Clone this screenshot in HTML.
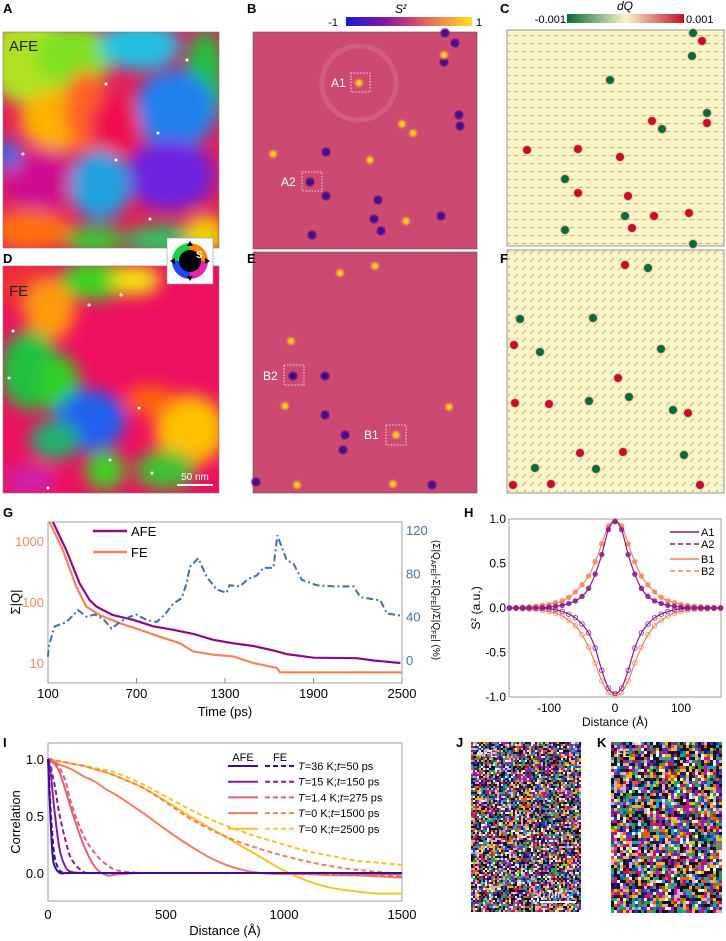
<!DOCTYPE html>
<html><head><meta charset="utf-8"><style>
body{margin:0;background:#fff;width:726px;height:941px;overflow:hidden;font-family:"Liberation Sans",sans-serif;}
svg{position:absolute;left:0;top:0}
</style></head><body>
<svg id="fig" width="726" height="941" viewBox="0 0 726 941" xmlns="http://www.w3.org/2000/svg" font-family="Liberation Sans, sans-serif">
<defs>
<pattern id="arrows" width="8" height="8" patternUnits="userSpaceOnUse"><line x1="1.5" y1="4" x2="6.5" y2="3.4" stroke="#9a9a7a" stroke-width="0.7"/></pattern>
<pattern id="arrows2" width="8" height="8" patternUnits="userSpaceOnUse"><line x1="2" y1="6" x2="6" y2="2" stroke="#9a9a7a" stroke-width="0.7"/></pattern>
<linearGradient id="cbS" x1="0" x2="1"><stop offset="0" stop-color="#1a1ad0"/><stop offset="0.3" stop-color="#7a1aa0"/><stop offset="0.55" stop-color="#d04a70"/><stop offset="0.8" stop-color="#f59a40"/><stop offset="1" stop-color="#ffe020"/></linearGradient>
<linearGradient id="cbQ" x1="0" x2="1"><stop offset="0" stop-color="#0a6a3a"/><stop offset="0.5" stop-color="#fbf5c8"/><stop offset="1" stop-color="#c0102a"/></linearGradient>
<radialGradient id="dotY"><stop offset="0" stop-color="#fff070"/><stop offset="0.5" stop-color="#f7a020"/><stop offset="1" stop-color="#d04a70" stop-opacity="0"/></radialGradient>
<radialGradient id="dotP"><stop offset="0" stop-color="#3a0a8a"/><stop offset="0.6" stop-color="#5a108a"/><stop offset="1" stop-color="#d04a70" stop-opacity="0"/></radialGradient>
<filter id="blur6"><feGaussianBlur stdDeviation="8"/></filter>
<clipPath id="clipA"><rect x="3" y="32" width="216" height="216"/></clipPath>
<clipPath id="clipD"><rect x="3" y="266" width="216" height="227"/></clipPath>
</defs>

<!-- Panel A -->
<g clip-path="url(#clipA)">
<rect x="3" y="32" width="216" height="216" fill="#e0205a"/>
<g filter="url(#blur6)">
<ellipse cx="30" cy="60" rx="45" ry="45" fill="#b0e020"/>
<ellipse cx="75" cy="55" rx="40" ry="30" fill="#80e020"/>
<ellipse cx="140" cy="45" rx="40" ry="25" fill="#20c0e0"/>
<ellipse cx="205" cy="80" rx="20" ry="50" fill="#20c040"/>
<ellipse cx="175" cy="110" rx="40" ry="40" fill="#2080f0"/>
<ellipse cx="170" cy="175" rx="45" ry="35" fill="#7020e0"/>
<ellipse cx="60" cy="120" rx="40" ry="30" fill="#ffb000"/>
<ellipse cx="85" cy="110" rx="20" ry="40" fill="#ff6020"/>
<ellipse cx="115" cy="125" rx="25" ry="30" fill="#f01050"/>
<ellipse cx="40" cy="180" rx="40" ry="30" fill="#d01090"/>
<ellipse cx="30" cy="230" rx="40" ry="20" fill="#ff7010"/>
<ellipse cx="100" cy="185" rx="30" ry="35" fill="#20a0e0"/>
<ellipse cx="95" cy="240" rx="30" ry="15" fill="#40c030"/>
<ellipse cx="165" cy="240" rx="40" ry="15" fill="#30c060"/>
<ellipse cx="205" cy="235" rx="20" ry="20" fill="#f0d000"/>
<ellipse cx="8" cy="155" rx="12" ry="15" fill="#2070f0"/>
</g>
<g fill="#fff"><circle cx="106" cy="84" r="1.5"/><circle cx="158" cy="133" r="1.5"/><circle cx="23" cy="154" r="1.5"/><circle cx="116" cy="160" r="1.5"/><circle cx="150" cy="219" r="1.5"/><circle cx="187" cy="60" r="1.5"/></g>
<text x="9" y="51" font-size="15" fill="#222">AFE</text>
</g>
<rect x="3" y="32" width="216" height="216" fill="none" stroke="#777" stroke-width="0.6"/>

<!-- Panel D -->
<g clip-path="url(#clipD)">
<rect x="3" y="266" width="216" height="227" fill="#ee1060"/>
<g filter="url(#blur6)">
<ellipse cx="25" cy="285" rx="30" ry="25" fill="#f03030"/>
<ellipse cx="50" cy="310" rx="25" ry="30" fill="#ff9a10"/>
<ellipse cx="95" cy="280" rx="35" ry="20" fill="#40d020"/>
<ellipse cx="135" cy="280" rx="25" ry="15" fill="#f0e010"/>
<ellipse cx="30" cy="370" rx="30" ry="40" fill="#20c040"/>
<ellipse cx="60" cy="385" rx="20" ry="30" fill="#30d020"/>
<ellipse cx="90" cy="420" rx="35" ry="30" fill="#2060f0"/>
<ellipse cx="55" cy="440" rx="25" ry="20" fill="#20b070"/>
<ellipse cx="190" cy="430" rx="35" ry="35" fill="#ffc000"/>
<ellipse cx="165" cy="470" rx="30" ry="20" fill="#40c030"/>
<ellipse cx="30" cy="480" rx="25" ry="15" fill="#d020b0"/>
<ellipse cx="105" cy="470" rx="20" ry="20" fill="#40d020"/>
<ellipse cx="150" cy="400" rx="25" ry="15" fill="#ff6010"/>
</g>
<g fill="#fff"><circle cx="89" cy="305" r="1.5"/><circle cx="121" cy="295" r="1.5"/><circle cx="13" cy="331" r="1.5"/><circle cx="9" cy="378" r="1.5"/><circle cx="139" cy="408" r="1.5"/><circle cx="110" cy="460" r="1.5"/><circle cx="152" cy="473" r="1.5"/><circle cx="48" cy="488" r="1.5"/></g>
<text x="9" y="296" font-size="15" fill="#222">FE</text>
<line x1="177" y1="485" x2="213" y2="485" stroke="#fff" stroke-width="2"/>
<text x="195" y="480" font-size="10" fill="#fff" text-anchor="middle">50 nm</text>
</g>
<rect x="3" y="266" width="216" height="227" fill="none" stroke="#777" stroke-width="0.6"/>

<!-- inset wheel -->
<g>
<rect x="167" y="238" width="46" height="46" fill="#fff" stroke="#999" stroke-width="0.6"/>
<circle cx="190" cy="261" r="18" fill="#7fd"/>
<path d="M190 261 L208 261 A18 18 0 0 0 190 243Z" fill="#f80"/>
<path d="M190 261 L190 243 A18 18 0 0 0 172 261Z" fill="#2c4"/>
<path d="M190 261 L172 261 A18 18 0 0 0 190 279Z" fill="#24f"/>
<path d="M190 261 L190 279 A18 18 0 0 0 208 261Z" fill="#e2a"/>
<circle cx="190" cy="261" r="11" fill="#000"/>
<text x="196" y="258" font-size="10" font-weight="bold" fill="#fff">S</text>
<path d="M190 241 l-3 5 h6z M190 281 l-3 -5 h6z M170 261 l5 -3 v6z M210 261 l-5 -3 v6z" fill="#000"/>
</g>

<!-- Panel B -->
<g>
<rect x="253" y="32" width="224" height="217" fill="#cc4a72" stroke="#555" stroke-width="0.6"/>
<circle cx="359" cy="83" r="37" fill="none" stroke="#d86a88" stroke-width="5" opacity="0.6"/>
<g id="bdots"></g>
<rect x="351" y="73" width="19" height="19" fill="none" stroke="#fff" stroke-dasharray="1.5,1.5" stroke-width="0.8"/>
<rect x="302" y="172" width="20" height="19" fill="none" stroke="#fff" stroke-dasharray="1.5,1.5" stroke-width="0.8"/>
<text x="331" y="87" font-size="12" fill="#fff">A1</text>
<text x="281" y="186" font-size="12" fill="#fff">A2</text>
<rect x="346" y="17" width="126" height="9" fill="url(#cbS)"/>
<text x="338" y="26" font-size="11" text-anchor="end">-1</text>
<text x="476" y="26" font-size="11">1</text>
<text x="401" y="13" font-size="12" font-style="italic" text-anchor="middle">S<tspan font-size="8" dy="-4">z</tspan></text>
</g>
<!-- Panel E -->
<g>
<rect x="253" y="252" width="224" height="241" fill="#cc4a72" stroke="#555" stroke-width="0.6"/>
<g id="edots"></g>
<rect x="284" y="365" width="20" height="20" fill="none" stroke="#fff" stroke-dasharray="1.5,1.5" stroke-width="0.8"/>
<rect x="386" y="425" width="20" height="20" fill="none" stroke="#fff" stroke-dasharray="1.5,1.5" stroke-width="0.8"/>
<text x="263" y="380" font-size="12" fill="#fff">B2</text>
<text x="364" y="439" font-size="12" fill="#fff">B1</text>
</g>
<!-- Panel C -->
<g>
<rect x="507" y="30" width="217" height="216" fill="#fbf5c8" stroke="#555" stroke-width="0.6"/>
<rect x="508" y="31" width="215" height="214" fill="url(#arrows)"/>
<g id="cdots"></g>
<rect x="567" y="14" width="117" height="9" fill="url(#cbQ)"/>
<text x="566" y="23" font-size="11" text-anchor="end">-0.001</text>
<text x="686" y="23" font-size="11">0.001</text>
<text x="625" y="10" font-size="12" font-style="italic" text-anchor="middle">dQ</text>
</g>
<!-- Panel F -->
<g>
<rect x="507" y="250" width="217" height="243" fill="#fbf5c8" stroke="#555" stroke-width="0.6"/>
<rect x="508" y="251" width="215" height="241" fill="url(#arrows2)"/>
<g id="fdots"></g>
</g>

<!-- panel letters -->
<g font-size="13" font-weight="bold">
<text x="3" y="13">A</text><text x="247" y="13">B</text><text x="500" y="13">C</text>
<text x="3" y="263">D</text><text x="247" y="263">E</text><text x="500" y="263">F</text>
<text x="3" y="517">G</text><text x="464" y="517">H</text><text x="3" y="747">I</text>
<text x="456" y="747">J</text><text x="597" y="747">K</text>
</g>

<!-- G chart -->
<g id="gChart">
<rect x="48" y="522" width="354" height="161" fill="none" stroke="#888" stroke-width="0.8"/>
<text x="225" y="716" font-size="13" text-anchor="middle">Time (ps)</text>
<text transform="translate(20,602) rotate(-90)" font-size="13" text-anchor="middle">Σ|Q|</text>
<text transform="translate(433,600) rotate(90)" font-size="10" text-anchor="middle">(Σ|Q<tspan font-size="7" dy="2">AFE</tspan><tspan dy="-2">|-Σ|Q</tspan><tspan font-size="7" dy="2">FE</tspan><tspan dy="-2">|)/Σ|Q</tspan><tspan font-size="7" dy="2">FE</tspan><tspan dy="-2">| (%)</tspan></text>
<line x1="93" y1="531" x2="127" y2="531" stroke="#8b0a8b" stroke-width="2.5"/>
<text x="131" y="536" font-size="13">AFE</text>
<line x1="93" y1="552" x2="127" y2="552" stroke="#f5845a" stroke-width="2.5"/>
<text x="131" y="557" font-size="13">FE</text>
</g>
<!-- H chart -->
<g id="hChart">
<rect x="509" y="519" width="212" height="178" fill="none" stroke="#888" stroke-width="0.8"/>
<text x="615" y="726" font-size="12" text-anchor="middle">Distance (Å)</text>
<text transform="translate(480,608) rotate(-90)" font-size="12" text-anchor="middle">S<tspan font-size="8" dy="-4">z</tspan><tspan dy="4"> (a.u.)</tspan></text>
<g font-size="11">
<line x1="670" y1="532" x2="699" y2="532" stroke="#8b1a8b" stroke-width="1.5"/><text x="701" y="536">A1</text>
<line x1="670" y1="544" x2="699" y2="544" stroke="#8b1a8b" stroke-width="1.5" stroke-dasharray="5,3"/><text x="701" y="548">A2</text>
<line x1="670" y1="559" x2="699" y2="559" stroke="#f5845a" stroke-width="1.5"/><text x="701" y="563">B1</text>
<line x1="670" y1="571" x2="699" y2="571" stroke="#f5845a" stroke-width="1.5" stroke-dasharray="5,3"/><text x="701" y="575">B2</text>
</g>
</g>
<!-- I chart -->
<g id="iChart">
<rect x="48" y="743" width="354" height="158" fill="none" stroke="#888" stroke-width="0.8"/>
<text x="225" y="935" font-size="13" text-anchor="middle">Distance (Å)</text>
<text transform="translate(20,822) rotate(-90)" font-size="13" text-anchor="middle">Correlation</text>
<text x="243" y="761" font-size="11" text-anchor="middle">AFE</text>
<text x="280" y="761" font-size="11" text-anchor="middle">FE</text>
<g id="iLegend" font-size="11"></g>
</g>

<!-- J, K noise maps -->
<g id="jmap"></g>
<g id="kmap"></g>
<g fill="#fff" font-size="11">
<text x="476" y="757">AFE</text><text x="616" y="757">FE</text>
<text x="548" y="898" text-anchor="middle">50 nm</text>
</g>
<line x1="540" y1="902" x2="576" y2="902" stroke="#fff" stroke-width="2"/>
</svg>
<script>
const NS="http://www.w3.org/2000/svg";
// ---- G data ----
const gAfeT=[134,225,315,383,428,540,677,813,949,1085,1220,1357,1492,1628,1719,1900,2194,2308,2489];
const gAfeV=[2040,700,200,107,84,61,51,40,35,30,24,21,19,16,14,12.2,12,11,10];
const gFeT=[111,202,292,360,451,587,723,858,994,1085,1220,1357,1492,1583,1651,1674,2500];
const gFeV=[2040,700,178,84,61,45,35,27,21,15.5,13.7,12.8,10,9,8.3,7,7];
const gRatT=[100,104,145,225,304,360,417,474,530,587,655,700,768,836,892,949,1006,1040,1062,1119,1175,1243,1311,1330,1402,1458,1515,1560,1628,1655,1719,1764,1821,1923,2036,2172,2217,2353,2398,2489];
const gRatV=[3,12,31,35,46,40,42,38,29,35,40,42,37,35,42,52,57,71,86,94,77,65,62,69,68,75,78,85,85,115,92,89,74,69,68,68,58,55,43,41];
const gXTicks=[100,700,1300,1900,2500];
const gYTicks=[10,100,1000];
const gRTicks=[0,40,80,120];
// ---- H data ----
const hDist=[0,10,20,30,40,50,60,70,80,90,100,110,120,130,140,150,160];
const hA1=[0.97,0.88,0.6,0.38,0.22,0.13,0.08,0.05,0.03,0.02,0.01,0.005,0,0,0,0,0];
const hA2=[-0.96,-0.9,-0.7,-0.45,-0.28,-0.18,-0.11,-0.07,-0.04,-0.02,-0.01,-0.005,0,0,0,0,0];
const hB1=[0.98,0.92,0.72,0.52,0.36,0.26,0.18,0.12,0.08,0.06,0.04,0.03,0.02,0.015,0.01,0.005,0];
const hB2=[-0.98,-0.95,-0.82,-0.62,-0.44,-0.3,-0.2,-0.14,-0.09,-0.06,-0.04,-0.03,-0.02,-0.015,-0.01,-0.005,0];
const hXTicks=[-100,0,100];
const hYTicks=[-1,-0.5,0,0.5,1];
// ---- I data ----
const iDist=[0,10,20,30,50,75,100,150,200,250,300,400,500,600,700,800,900,1000,1100,1200,1300,1400,1500];
const iAfe36=[1,0.5,0.15,0.05,0,0,0,0,0,0,0,0,0,0,0,0,0,0,0,0,0,0,0];
const iFe36=[1,0.6,0.3,0.12,0.02,0,0,0,0,0,0,0,0,0,0,0,0,0,0,0,0,0,0];
const iAfe15=[1,0.9,0.7,0.5,0.2,0.05,0.01,0,0,0,0,0,0,0,0,0,0,0,0,0,0,0,0];
const iFe15=[1,0.95,0.85,0.75,0.5,0.28,0.12,0.01,0,0,0,0,0,0,0,0,0,0,0,0,0,0,0];
const iAfe14=[1,0.99,0.97,0.95,0.88,0.72,0.55,0.25,0.05,-0.02,-0.01,0,0,0,0,0,0,0,0,0,-0.01,-0.01,-0.01];
const iFe14=[1,1,0.99,0.97,0.92,0.8,0.6,0.33,0.17,0.07,0.02,0,0,0,0,0,0,0,-0.01,-0.01,-0.02,-0.02,-0.03];
const iAfe1500=[1,0.99,0.98,0.97,0.95,0.93,0.91,0.85,0.8,0.73,0.67,0.53,0.38,0.24,0.12,0.04,0,-0.01,-0.01,-0.02,-0.02,-0.03,-0.04];
const iFe1500=[1,0.995,0.99,0.985,0.98,0.97,0.96,0.94,0.91,0.88,0.84,0.75,0.62,0.48,0.37,0.28,0.21,0.15,0.1,0.06,0.03,0.01,-0.01];
const iAfe2500=[1,0.995,0.99,0.985,0.98,0.97,0.96,0.94,0.91,0.88,0.84,0.75,0.63,0.5,0.38,0.26,0.14,0.02,-0.07,-0.13,-0.16,-0.18,-0.18];
const iFe2500=[1,0.995,0.99,0.985,0.98,0.97,0.96,0.94,0.92,0.9,0.87,0.78,0.67,0.56,0.46,0.38,0.31,0.25,0.19,0.15,0.11,0.09,0.07];
const iLabels=["=36 K;","=15 K;","=1.4 K;","=0 K;","=0 K;"];
const iTimes=["=50 ps","=150 ps","=275 ps","=1500 ps","=2500 ps"];
const iXTicks=[0,500,1000,1500];
const iYTicks=[0,0.5,1];

function mk(tag,attrs,parent){const e=document.createElementNS(NS,tag);for(const k in attrs)e.setAttribute(k,attrs[k]);parent.appendChild(e);return e;}
function smooth(pts){if(pts.length<2)return"";let d="M"+pts[0][0].toFixed(1)+" "+pts[0][1].toFixed(1);for(let i=0;i<pts.length-1;i++){const p0=pts[i-1]||pts[i],p1=pts[i],p2=pts[i+1],p3=pts[i+2]||p2;const c1=[p1[0]+(p2[0]-p0[0])/6,p1[1]+(p2[1]-p0[1])/6],c2=[p2[0]-(p3[0]-p1[0])/6,p2[1]-(p3[1]-p1[1])/6];d+=" C"+c1[0].toFixed(1)+" "+c1[1].toFixed(1)+" "+c2[0].toFixed(1)+" "+c2[1].toFixed(1)+" "+p2[0].toFixed(1)+" "+p2[1].toFixed(1);}return d;}

// ---- G ----
const G=document.getElementById('gChart');
const gx=t=>48+(t-100)/2400*354;
const gy=v=>663-(Math.log10(v)-1)*61;
const gr=v=>660-v/120*130;
gXTicks.forEach(t=>{const l=mk('line',{x1:gx(t),x2:gx(t),y1:683,y2:678,stroke:'#888'},G);
 const tx=mk('text',{x:gx(t),y:698,'font-size':13,'text-anchor':'middle'},G);tx.textContent=t;});
gYTicks.forEach(v=>{const tx=mk('text',{x:44,y:gy(v)+5,'font-size':13,'text-anchor':'end',fill:'#f08a6a'},G);tx.textContent=v;});
gRTicks.forEach(v=>{const tx=mk('text',{x:406,y:gr(v)+5,'font-size':13,fill:'#4a70a8'},G);tx.textContent=v;});
function gPath(T,V,col,name){const pts=T.map((t,i)=>[gx(t),Math.max(522,gy(V[i]))]);const p=mk('polyline',{points:pts.map(q=>q[0].toFixed(1)+','+q[1].toFixed(1)).join(' '),fill:'none',stroke:col,'stroke-width':2.2,'stroke-linejoin':'round'},G);}
gPath(gAfeT,gAfeV,'#8b0a8b','afe-line');
gPath(gFeT,gFeV,'#f5845a','fe-line');
{const pts=gRatT.map((t,i)=>[gx(t),gr(gRatV[i])]);const p=mk('polyline',{points:pts.map(q=>q.join(',')).join(' '),fill:'none',stroke:'#3f6fa8','stroke-width':2,'stroke-dasharray':'7,3,2,3'},G);}

// ---- H ----
const H=document.getElementById('hChart');
const hx=d=>615+d*0.66;
const hy=v=>608-v*89;
hXTicks.forEach(t=>{const tx=mk('text',{x:hx(t),y:712,'font-size':12,'text-anchor':'middle'},H);tx.textContent=t;});
hYTicks.forEach(v=>{const tx=mk('text',{x:506,y:hy(v)+4,'font-size':12,'text-anchor':'end'},H);tx.textContent=v.toFixed(1);});
function hSeries(V,col,filled,name){const pts=[];for(let i=hDist.length-1;i>0;i--)pts.push([hx(-hDist[i]),hy(V[i])]);for(let i=0;i<hDist.length;i++)pts.push([hx(hDist[i]),hy(V[i])]);
 const p=mk('path',{d:smooth(pts),fill:'none',stroke:col,'stroke-width':1.2},H);
 pts.forEach(q=>{const c=mk('circle',{cx:q[0],cy:q[1],r:2.3,fill:filled?col:'none',stroke:col,'stroke-width':0.9,opacity:0.85},H);});}
hSeries(hB1,'#f5845a',true,'b1');hSeries(hB2,'#f5845a',false,'b2');
hSeries(hA1,'#8b1a8b',true,'a1');hSeries(hA2,'#8b1a8b',false,'a2');

// ---- I ----
const I=document.getElementById('iChart');
const ix=d=>48+d/1500*354;
const iy=v=>873-v*114;
iXTicks.forEach(t=>{const tx=mk('text',{x:ix(t),y:919,'font-size':13,'text-anchor':'middle'},I);tx.textContent=t;});
iYTicks.forEach(v=>{const tx=mk('text',{x:44,y:iy(v)+5,'font-size':13,'text-anchor':'end'},I);tx.textContent=v.toFixed(1);});
const iCols=['#3b0f8f','#8b1a9a','#e0607a','#f08060','#fbc02d'];
const iAfe=[iAfe36,iAfe15,iAfe14,iAfe1500,iAfe2500],iFe=[iFe36,iFe15,iFe14,iFe1500,iFe2500];
[4,3,2,1,0].forEach(k=>{
 [[iFe[k],'5,3','fe'],[iAfe[k],'none','afe']].forEach(([V,dash,nm])=>{const pts=iDist.map((d,i)=>[ix(d),iy(V[i])]);const p=mk('path',{d:smooth(pts),fill:'none',stroke:iCols[k],'stroke-width':2,'stroke-dasharray':dash},I);});});
const IL=document.getElementById('iLegend');
iCols.forEach((c,k)=>{const y=766+k*15.7;mk('line',{x1:228,x2:258,y1:y,y2:y,stroke:c,'stroke-width':2},IL);mk('line',{x1:265,x2:296,y1:y,y2:y,stroke:c,'stroke-width':2,'stroke-dasharray':'5,3'},IL);
 const t=mk('text',{x:298,y:y+4},IL);t.innerHTML='<tspan font-style="italic">T</tspan>'+iLabels[k]+'<tspan font-style="italic">t</tspan>'+iTimes[k];});

// ---- maps dots ----
function dots(id,list,grad,r){const g=document.getElementById(id);list.forEach(p=>{const c=mk('circle',{cx:p[0],cy:p[1],r:r,fill:grad},g);});}
dots('bdots',[[445,33],[455,43],[444,62],[459,115],[460,126],[326,152],[310,182],[326,196],[378,200],[374,219],[381,231],[441,216],[312,235]],'url(#dotP)',6);
dots('bdots',[[444,55],[359,83],[402,124],[413,133],[273,154],[370,160],[406,221]],'url(#dotY)',6);
dots('edots',[[340,273],[375,266],[291,341],[285,406],[396,435],[449,407],[297,485],[393,484]],'url(#dotY)',6);
dots('edots',[[293,376],[325,376],[325,415],[345,435],[343,450],[256,482],[432,485]],'url(#dotP)',6);
function qd(id,list,col){const g=document.getElementById(id);list.forEach(p=>{const c=mk('circle',{cx:p[0],cy:p[1],r:4.5,fill:col,stroke:'#f5c0a0','stroke-width':1},g);});}
qd('cdots',[[693,33],[692,56],[610,80],[707,113],[662,129],[565,179],[625,216],[565,230],[693,244]],'#0a6a3a');
qd('cdots',[[702,41],[652,121],[707,123],[527,150],[578,149],[620,157],[578,193],[628,196],[654,216],[632,228],[689,213]],'#c0102a');
qd('fdots',[[648,268],[593,318],[520,319],[540,352],[661,349],[589,401],[629,397],[673,410],[684,455],[596,469],[535,468]],'#0a6a3a');
qd('fdots',[[625,265],[514,345],[618,378],[515,403],[549,404],[580,453],[623,452],[688,413],[513,485],[551,484],[700,485]],'#c0102a');

// ---- noise textures (decorative) ----
let seed=7;function rnd(){seed=(seed*16807)%2147483647;return seed/2147483647;}
function noise(id,x0,y0,w,h,cell){const g=document.getElementById(id);mk('rect',{x:x0,y:y0,width:w,height:h,fill:'#6a3a7a'},g);const pal=['#c01060','#20a040','#2040c0','#e0c000','#f0f0f0','#101010','#101010','#20a0c0','#a020b0','#e06010','#102060','#f0a0d0'];
 for(let y=0;y<h;y+=cell)for(let x=0;x<w;x+=cell){mk('rect',{x:x0+x,y:y0+y,width:cell,height:cell,fill:pal[Math.floor(rnd()*pal.length)]},g);}}
noise('jmap',471,742,110,170,2);
noise('kmap',611,742,110,170,3);
</script>
</body></html>
